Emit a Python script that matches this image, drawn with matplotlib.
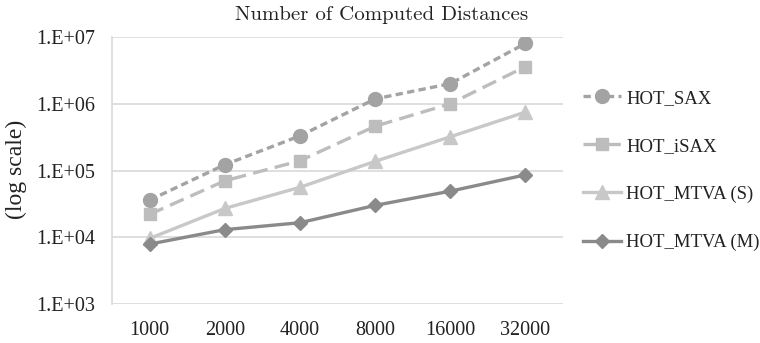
import matplotlib

matplotlib.use("Agg")
import matplotlib.pyplot as plt
import numpy as np

sizes = ["1000", "2000", "4000", "8000", "16000", "32000"]
hot_sax = [3.6e4, 1.22e5, 3.3e5, 1.18e6, 2.0e6, 8.0e6]
hot_isax = [2.2e4, 7.0e4, 1.4e5, 4.6e5, 1.0e6, 3.6e6]
hot_mtva_s = [9.6e3, 2.7e4, 5.6e4, 1.37e5, 3.2e5, 7.5e5]
hot_mtva_m = [7.9e3, 1.3e4, 1.65e4, 3.0e4, 4.9e4, 8.6e4]
y_ticks = [1e3, 1e4, 1e5, 1e6, 1e7]
y_labels = ["1.E+03", "1.E+04", "1.E+05", "1.E+06", "1.E+07"]

SERIF = "Liberation Serif"
TXT = "#222222"

fig = plt.figure(figsize=(7.6, 3.43), dpi=100)
ax = fig.add_axes([112 / 760, 39 / 343, 451 / 760, 267 / 343])

x = np.arange(len(sizes))
ax.plot(x, hot_sax, color="#a3a3a3", lw=2.4, ls=(0, (2.2, 1.3)), marker="o", ms=10,
        label="HOT_SAX")
ax.plot(x, hot_isax, color="#bdbdbd", lw=2.4, ls=(0, (4.5, 2.2)), marker="s", ms=8.5,
        label="HOT_iSAX")
ax.plot(x, hot_mtva_s, color="#c8c8c8", lw=2.4, marker="^", ms=10,
        label="HOT_MTVA (S)")
ax.plot(x, hot_mtva_m, color="#8a8a8a", lw=2.4, marker="D", ms=7.5,
        label="HOT_MTVA (M)")

ax.set_yscale("log")
ax.set_ylim(1e3, 1e7)
ax.set_xlim(-0.5, len(sizes) - 0.5)
ax.set_yticks(y_ticks)
ax.set_yticklabels(y_labels)
ax.minorticks_off()
ax.set_xticks(x)
ax.set_xticklabels(sizes)
ax.tick_params(length=0, labelsize=14.5, pad=12)
for lab in ax.get_xticklabels() + ax.get_yticklabels():
    lab.set_family(SERIF)
    lab.set_color(TXT)
ax.yaxis.grid(True, color="#d9d9d9", lw=1.2)
ax.set_axisbelow(True)
for s in ["top", "right", "bottom"]:
    ax.spines[s].set_visible(False)
ax.spines["left"].set_color("#d9d9d9")
ax.spines["left"].set_linewidth(1.2)

fig.text(6 / 760, 0.505, "(log scale)", rotation=90, va="center", ha="left",
         fontsize=17, family=SERIF, color=TXT)
fig.text(382 / 760, 0.955, "Number of Computed Distances", ha="center", va="center",
         fontsize=15, family="cmr10", color=TXT)

leg = ax.legend(loc="center left", bbox_to_anchor=((583 - 112) / 451, 0.5),
                frameon=False, handlelength=2.0, labelspacing=1.65,
                handletextpad=0.3, borderaxespad=0, borderpad=0,
                prop={"family": SERIF, "size": 13.5})
for t in leg.get_texts():
    t.set_color(TXT)

fig.savefig("out.png", dpi=100)
